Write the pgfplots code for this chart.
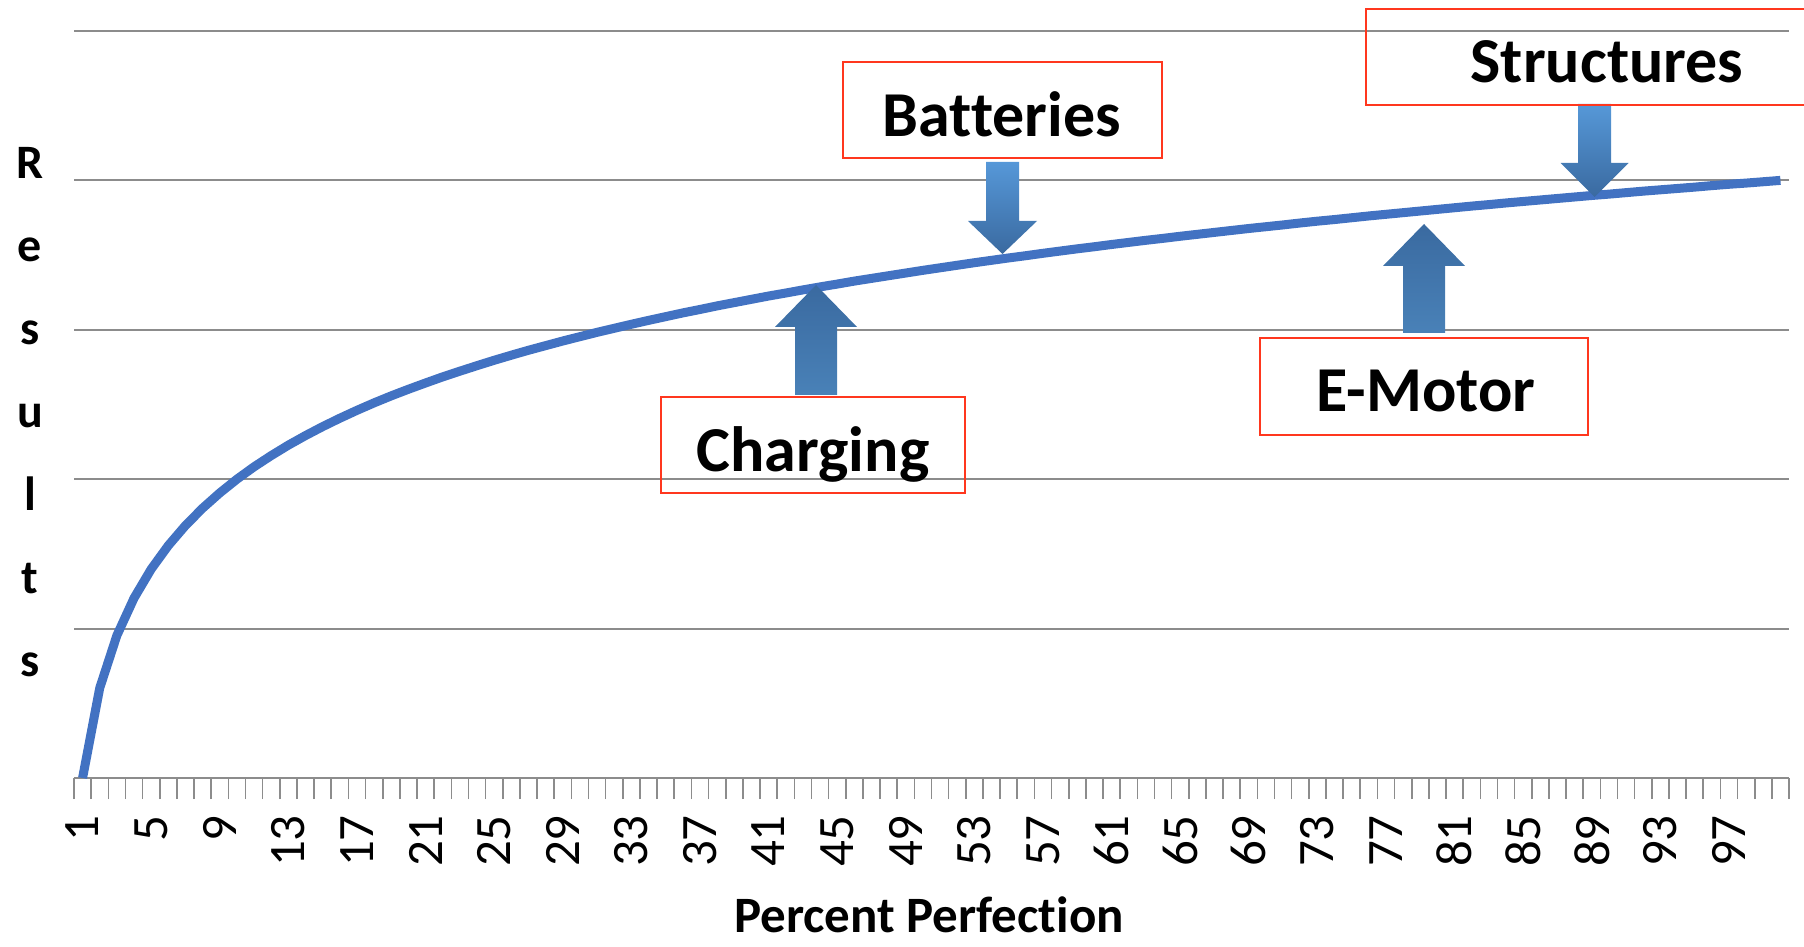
\documentclass[border=0pt]{standalone}
\usepackage{pgfplots}
\pgfplotsset{compat=1.18}
\usepackage{fontspec}
\setmainfont{Carlito}[Ligatures=NoCommon]
\definecolor{curveblue}{RGB}{66,114,194}
\definecolor{gridgray}{RGB}{140,140,140}
\definecolor{boxred}{RGB}{255,55,30}
\definecolor{arrowlight}{RGB}{86,152,216}
\definecolor{arrowdark}{RGB}{58,106,160}

% block arrows: #1 centre x, #2 shaft end, #3 head base, #4 tip, #5 shaft half width, #6 head half width
\newcommand{\blockarrow}[8]{%
  \shade[top color=#7, bottom color=#8]
    (#1-#5,#2) -- (#1-#5,#3) -- (#1-#6,#3) -- (#1,#4) -- (#1+#6,#3) -- (#1+#5,#3) -- (#1+#5,#2) -- cycle;}

\begin{document}
\begin{tikzpicture}[x=1pt,y=1pt]
\useasboundingbox (0,0) rectangle (1804,947);
\begin{axis}[
  at={(74pt,169pt)}, anchor=south west,
  scale only axis, width=1715pt, height=747pt,
  xmin=0.5, xmax=100.5, ymin=0, ymax=5,
  axis lines=left, axis line style={-},
  x axis line style={gridgray, line width=2pt},
  y axis line style={draw=none},
  ytick={1,2,3,4,5}, yticklabels={}, ymajorgrids,
  major grid style={gridgray, line width=2pt},
  ytick style={draw=none},
  xtick={1,5,...,97},
  minor xtick={0.5,1.5,...,100.5},
  tick align=outside, major tick length=0pt, minor tick length=21pt,
  xtick style={gridgray, line width=1.6pt},
  xticklabel style={rotate=90, anchor=east, inner sep=0pt,
    font=\fontsize{51}{51}\selectfont},
  xticklabel shift=37pt,
  /pgf/number format/assume math mode=true,
  clip=false,
]
\addplot[curveblue, line width=9pt, line join=round] table {
x y
1 0.000
2 0.602
3 0.954
4 1.204
5 1.398
6 1.556
7 1.690
8 1.806
9 1.908
10 2.000
11 2.083
12 2.158
13 2.228
14 2.292
15 2.352
16 2.408
17 2.461
18 2.511
19 2.558
20 2.602
21 2.644
22 2.685
23 2.723
24 2.760
25 2.796
26 2.830
27 2.863
28 2.894
29 2.925
30 2.954
31 2.983
32 3.010
33 3.037
34 3.063
35 3.088
36 3.113
37 3.136
38 3.160
39 3.182
40 3.204
41 3.226
42 3.246
43 3.267
44 3.287
45 3.306
46 3.326
47 3.344
48 3.362
49 3.380
50 3.398
51 3.415
52 3.432
53 3.449
54 3.465
55 3.481
56 3.496
57 3.512
58 3.527
59 3.542
60 3.556
61 3.571
62 3.585
63 3.599
64 3.612
65 3.626
66 3.639
67 3.652
68 3.665
69 3.678
70 3.690
71 3.702
72 3.715
73 3.727
74 3.738
75 3.750
76 3.762
77 3.773
78 3.784
79 3.795
80 3.806
81 3.817
82 3.828
83 3.838
84 3.849
85 3.859
86 3.869
87 3.879
88 3.889
89 3.899
90 3.908
91 3.918
92 3.928
93 3.937
94 3.946
95 3.955
96 3.965
97 3.974
98 3.982
99 3.991
100 4.000
};
\end{axis}

% vertical axis title, one letter per line
\foreach \ch/\yy in {R/768,e/685,s/602,u/519,l/436,t/353,s/270}
  \node[anchor=base, inner sep=0pt, font=\fontsize{48}{48}\selectfont\bfseries] at (30,\yy) {\ch};

% horizontal axis title
\node[anchor=base, inner sep=0pt, font=\fontsize{51}{51}\selectfont\bfseries] at (929,14) {Percent Perfection};

% arrows
\blockarrow{1594.5}{843}{784}{750}{16.5}{34}{arrowlight}{arrowdark}
\blockarrow{1002.5}{785}{726}{693}{16.5}{34.5}{arrowlight}{arrowdark}
\blockarrow{816}{552}{620}{662}{21}{41}{arrowdark}{arrowlight!85!black}
\blockarrow{1424}{614}{681}{723}{21}{41}{arrowdark}{arrowlight!85!black}

% labelled boxes
\draw[boxred, line width=2pt] (1366,938) rectangle (1850,842);
\draw[boxred, line width=2pt] (843,885) rectangle (1162,789);
\draw[boxred, line width=2pt] (661,550) rectangle (965,454);
\draw[boxred, line width=2pt] (1260,609) rectangle (1588,512);

\begin{scope}[every node/.style={anchor=base, inner sep=0pt, font=\fontsize{64}{64}\selectfont\bfseries}]
  \node at (1607,864) {Structures};
  \node at (1002,810) {Batteries};
  \node at (813,475) {Charging};
  \node at (1426,535) {E-Motor};
\end{scope}
\end{tikzpicture}
\end{document}
